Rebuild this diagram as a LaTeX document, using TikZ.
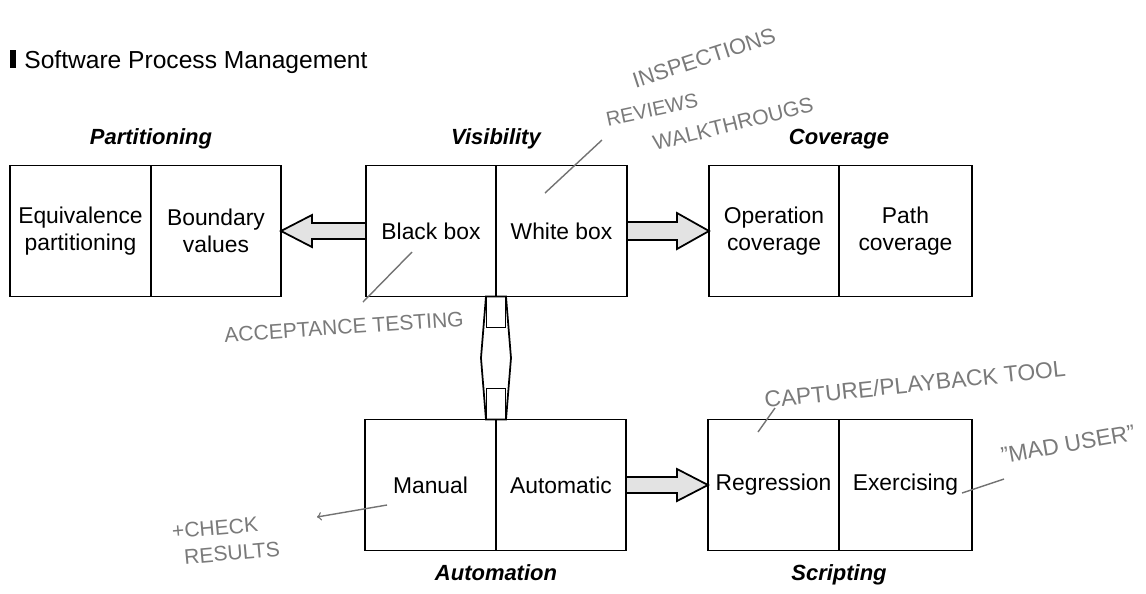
\documentclass[tikz,border=0pt]{standalone}
\usepackage{fontspec}
\setmainfont{Liberation Sans}
\usetikzlibrary{positioning,calc}

\tikzset{
  cell/.style={draw, line width=1pt, outer sep=0pt, inner sep=0pt,
    minimum width=2.6cm, minimum height=2.62cm, align=center,
    font=\fontsize{13}{15}\selectfont},
  headlbl/.style={font=\fontsize{12.5}{14}\selectfont\bfseries\itshape, inner sep=0pt},
  blockarr/.style={draw, line width=1pt, fill=gray!22, line join=miter},
  linkarr/.style={draw, line width=1pt, fill=white, line join=miter},
  note/.style={text=black!52, inner sep=0pt, font=\fontsize{12}{14}\selectfont},
  noteline/.style={draw=black!55, line width=0.8pt}
}

\begin{document}
\begin{tikzpicture}[x=0.02cm, y=-0.02cm]
    \useasboundingbox (0,0) rectangle (1146,593);

    % title
    \node[fill=black, minimum width=0.12cm, minimum height=0.36cm, inner sep=0pt] (bul) at (13,59) {};
    \node[anchor=base west, inner sep=0pt, font=\fontsize{14}{16}\selectfont] (title) at (24,68) {Software Process Management};

    % top row
    \node[cell, minimum width=2.82cm] (ep) at (80.5,231) {Equivalence\\partitioning};
    \node[cell, right=0pt of ep] (bv) {Boundary\\values};
    \node[cell] (bb) at (431,231) {Black box};
    \node[cell, right=0pt of bb, minimum width=2.62cm] (wb) {White box};
    \node[cell] (oc) at (774,231) {Operation\\coverage};
    \node[cell, right=0pt of oc, minimum width=2.66cm] (pc) {Path\\coverage};

    % bottom row
    \node[cell, minimum width=2.62cm] (ma) at (430.5,485) {Manual};
    \node[cell, right=0pt of ma] (am) {Automatic};
    \node[cell, minimum width=2.62cm] (rg) at (773.5,485) {Regression};
    \node[cell, right=0pt of rg, minimum width=2.66cm] (ex) {Exercising};

    % headings
    \node[headlbl, anchor=base] (parthd) at ($(ep.north east)+(0,-21)$) {Partitioning};
    \node[headlbl, anchor=base] (vishd) at ($(bb.north east)+(0,-21)$) {Visibility};
    \node[headlbl, anchor=base] (covhd) at ($(oc.north east)+(0,-21)$) {Coverage};
    \node[headlbl, anchor=base] (autohd) at ($(ma.south east)+(0,30)$) {Automation};
    \node[headlbl, anchor=base] (scrhd) at ($(rg.south east)+(0,30)$) {Scripting};

    % block arrows
    \draw[blockarr] ($(bb.west)+(0,-8)$) -- ($(bv.east)+(31,-8)$) -- ($(bv.east)+(31,-16)$) -- (bv.east)
        -- ($(bv.east)+(31,16)$) -- ($(bv.east)+(31,8)$) -- ($(bb.west)+(0,8)$) -- cycle;
    \draw[blockarr] ($(wb.east)+(0,-9)$) -- ($(oc.west)+(-32,-9)$) -- ($(oc.west)+(-32,-18)$) -- (oc.west)
        -- ($(oc.west)+(-32,18)$) -- ($(oc.west)+(-32,9)$) -- ($(wb.east)+(0,9)$) -- cycle;
    \draw[blockarr] ($(am.east)+(0,-8)$) -- ($(rg.west)+(-31,-8)$) -- ($(rg.west)+(-31,-16)$) -- (rg.west)
        -- ($(rg.west)+(-31,16)$) -- ($(rg.west)+(-31,8)$) -- ($(am.east)+(0,8)$) -- cycle;

    % visibility <-> automation
    \coordinate (vm) at ($(bb.south east)!0.5!(ma.north east)$);
    \draw[linkarr] ($(bb.south east)+(-10,0)$) -- ($(vm)+(-15,0)$) -- ($(ma.north east)+(-10,0)$)
        -- ($(ma.north east)+(10,0)$) -- ($(vm)+(15,0)$) -- ($(bb.south east)+(10,0)$) -- cycle;
    \draw[line width=1pt] ($(bb.south east)+(-9.5,0)$) rectangle ($(bb.south east)+(9.5,31)$);
    \draw[line width=1pt] ($(ma.north east)+(-9.5,0)$) rectangle ($(ma.north east)+(9.5,-31)$);

    % handwritten notes
    \node[note, rotate=18, font=\fontsize{12.5}{14}\selectfont] (insp) at (704,58) {INSPECTIONS};
    \node[note, rotate=12, font=\fontsize{11.5}{13}\selectfont] (revw) at (652,110) {REVIEWS};
    \node[note, rotate=14] (walk) at (733,124) {WALKTHROUGS};
    \coordinate (wbpt) at (545,193);
    \draw[noteline] (wbpt) -- (602,140);

    \node[note, rotate=4] (accp) at (344,327) {ACCEPTANCE TESTING};
    \coordinate (bbpt) at (412,252);
    \draw[noteline] (bbpt) -- (363,302);

    \node[note, rotate=6, font=\fontsize{13}{15}\selectfont] (capt) at (915,384) {CAPTURE/PLAYBACK TOOL};
    \coordinate (rgpt) at (758,432);
    \draw[noteline] (rgpt) -- (775,408);

    \node[note, rotate=10, font=\fontsize{13}{15}\selectfont] (mad) at (1068,444) {"MAD USER"};
    \coordinate (expt) at (962,493);
    \draw[noteline] (expt) -- (1004,479);

    \node[note, rotate=5] (chk) at (215,528) {+CHECK};
    \node[note, rotate=5] (res) at (232,553) {RESULTS};
    \coordinate (mapt) at (387,505);
    \draw[noteline, ->] (mapt) -- (317,517);
\end{tikzpicture}
\end{document}
